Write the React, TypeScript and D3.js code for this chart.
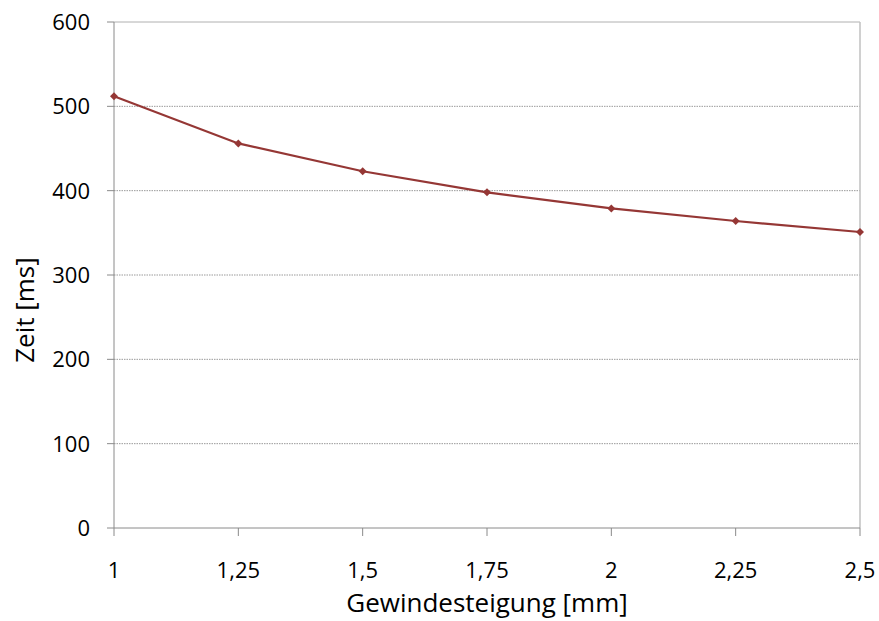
import React from "react";
import * as d3 from "d3";

const xValues = [1, 1.25, 1.5, 1.75, 2, 2.25, 2.5];
const yValues = [512, 456, 423, 398, 379, 364, 351];
const yTicks = [0, 100, 200, 300, 400, 500, 600];
const xLabel = "Gewindesteigung [mm]";
const yLabel = "Zeit [ms]";

const W = 879, H = 621;
const M = { left: 114, right: 860, top: 22, bottom: 528 };
const font = "'Open Sans', sans-serif";

export default function App() {
  const x = d3.scaleLinear().domain([1, 2.5]).range([M.left, M.right]);
  const y = d3.scaleLinear().domain([0, 600]).range([M.bottom, M.top]);
  const line = d3.line<number>().x((_, i) => x(xValues[i])).y((d) => y(d));
  const fmt = (v: number) => String(v).replace(".", ",");
  const color = "#953735";
  return (
    <svg width={W} height={H} style={{ position: "absolute", left: 0, top: 0, background: "#fff" }}>
      {yTicks.filter((t) => t > 0 && t < 600).map((t) => (
        <line key={t} x1={M.left} x2={M.right} y1={y(t)} y2={y(t)} stroke="#9a9a9a" strokeWidth={1} strokeDasharray="1.5,1" />
      ))}
      <line x1={M.left} x2={M.right} y1={y(600)} y2={y(600)} stroke="#b0b0b0" />
      <line x1={M.right} x2={M.right} y1={M.top} y2={M.bottom} stroke="#c0c0c0" strokeWidth={1.5} />
      <line x1={M.left} x2={M.left} y1={M.top} y2={M.bottom} stroke="#8a8a8a" />
      <line x1={M.left} x2={M.right} y1={M.bottom} y2={M.bottom} stroke="#8a8a8a" />
      {yTicks.map((t) => (
        <g key={t}>
          <line x1={M.left - 7} x2={M.left} y1={y(t)} y2={y(t)} stroke="#8a8a8a" />
          <text x={90} y={y(t)} dy="0.36em" textAnchor="end" fontFamily={font} fontSize={22} fill="#000">{t}</text>
        </g>
      ))}
      {xValues.map((v) => (
        <g key={v}>
          <line x1={x(v)} x2={x(v)} y1={M.bottom} y2={M.bottom + 8} stroke="#8a8a8a" />
          <text x={x(v)} y={578} textAnchor="middle" fontFamily={font} fontSize={22} fill="#000">{fmt(v)}</text>
        </g>
      ))}
      <path d={line(yValues) || ""} fill="none" stroke={color} strokeWidth={2.2} />
      {yValues.map((v, i) => {
        const cx = x(xValues[i]), cy = y(v), s = 4;
        return <path key={i} d={`M${cx},${cy - s}L${cx + s},${cy}L${cx},${cy + s}L${cx - s},${cy}Z`} fill={color} />;
      })}
      <text x={(M.left + M.right) / 2} y={612} textAnchor="middle" fontFamily={font} fontSize={26} fill="#000">{xLabel}</text>
      <text transform={`translate(34,310) rotate(-90)`} textAnchor="middle" fontFamily={font} fontSize={26} fill="#000">{yLabel}</text>
    </svg>
  );
}
